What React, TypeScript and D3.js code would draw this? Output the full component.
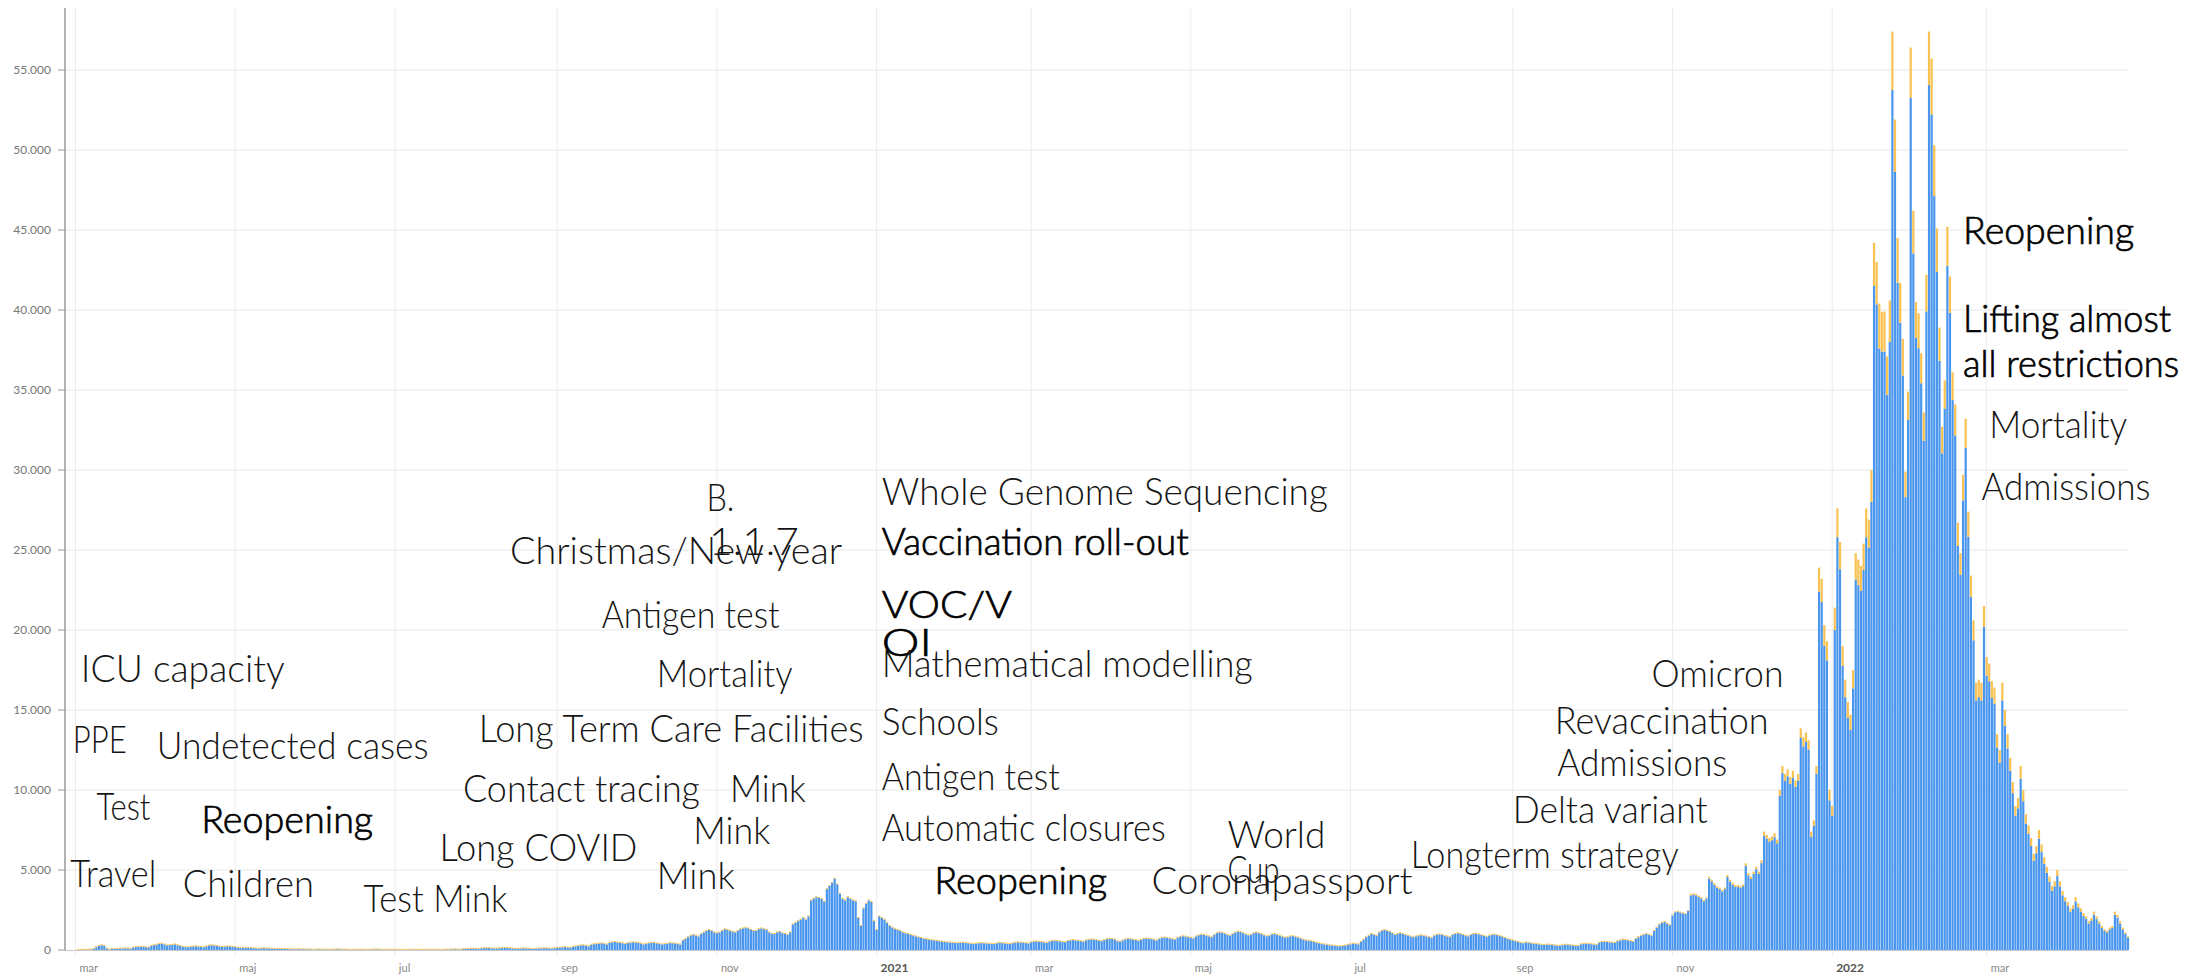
import { useEffect, useRef } from "react";
import * as d3 from "d3";

// daily positive cases (first infections + reinfections), one row per week Mon..Sun
const firstDay = "2020-03-02";
const totalCases: number[] = [
  4, 5, 8, 12, 20, 35, 60,
  180, 260, 300, 250, 90, 40, 60,
  70, 80, 90, 85, 100, 95, 80,
  150, 180, 200, 190, 210, 170, 160,
  260, 300, 330, 380, 400, 350, 290,
  300, 320, 350, 300, 250, 200, 180,
  170, 200, 220, 230, 210, 190, 170,
  230, 280, 300, 280, 260, 220, 190,
  200, 230, 220, 200, 180, 150, 130,
  120, 140, 130, 120, 110, 90, 80,
  100, 110, 95, 90, 80, 70, 60,
  70, 65, 60, 55, 50, 45, 40,
  50, 45, 40, 38, 35, 30, 25,
  30, 35, 32, 30, 28, 25, 20,
  35, 40, 38, 30, 25, 20, 15,
  20, 25, 22, 20, 18, 15, 12,
  25, 30, 35, 30, 25, 20, 15,
  12, 15, 14, 12, 10, 8, 8,
  10, 12, 15, 14, 12, 10, 8,
  12, 14, 16, 15, 12, 10, 9,
  20, 25, 30, 35, 40, 35, 30,
  50, 60, 70, 80, 90, 75, 60,
  100, 110, 120, 115, 100, 90, 80,
  110, 120, 130, 125, 110, 90, 80,
  80, 90, 100, 95, 85, 70, 60,
  80, 95, 100, 105, 110, 90, 80,
  110, 130, 150, 170, 180, 160, 140,
  190, 230, 260, 290, 300, 270, 230,
  330, 360, 380, 400, 420, 390, 340,
  450, 480, 500, 470, 450, 420, 380,
  430, 460, 480, 470, 440, 400, 350,
  380, 420, 450, 440, 420, 390, 350,
  370, 400, 430, 420, 410, 380, 340,
  600, 700, 800, 900, 950, 900, 850,
  1000, 1100, 1200, 1250, 1200, 1100, 1050,
  1100, 1200, 1300, 1250, 1200, 1150, 1100,
  1200, 1300, 1350, 1400, 1350, 1250, 1200,
  1200, 1300, 1350, 1300, 1250, 1100, 1000,
  1000, 1100, 1150, 1050, 1000, 950, 1100,
  1600, 1700, 1800, 1900, 2000, 1900, 2100,
  3100, 3200, 3300, 3250, 3200, 3000, 3800,
  4000, 4200, 4460, 4100, 3500, 3200, 3100,
  3300, 3200, 3100, 3050, 2000, 1500, 2600,
  2900, 3100, 3000, 1800, 1250, 2100, 2000,
  // 2021
  1900, 1700, 1500, 1400, 1300, 1250, 1200,
  1100, 1050, 1000, 950, 900, 850, 800,
  750, 700, 680, 650, 620, 600, 580,
  550, 520, 500, 480, 470, 460, 440,
  430, 450, 460, 440, 420, 400, 380,
  400, 420, 430, 420, 410, 390, 370,
  380, 420, 440, 430, 410, 390, 370,
  420, 460, 480, 470, 450, 430, 410,
  480, 520, 540, 520, 500, 470, 450,
  520, 560, 580, 560, 540, 510, 480,
  560, 600, 620, 600, 580, 550, 520,
  600, 640, 660, 650, 620, 580, 550,
  620, 680, 700, 690, 650, 550, 520,
  600, 660, 700, 680, 650, 620, 580,
  640, 700, 720, 700, 680, 640, 600,
  700, 760, 780, 760, 720, 680, 640,
  760, 820, 860, 840, 800, 760, 720,
  850, 920, 960, 940, 900, 850, 800,
  950, 1050, 1100, 1080, 1020, 950, 900,
  1000, 1100, 1150, 1120, 1050, 980, 920,
  950, 1050, 1100, 1050, 1000, 920, 860,
  900, 980, 1000, 950, 900, 830, 780,
  800, 850, 870, 830, 780, 720, 650,
  600, 580, 550, 500, 460, 420, 380,
  350, 330, 300, 280, 260, 240, 230,
  250, 280, 320, 360, 400, 380, 350,
  500, 650, 800, 900, 1000, 950, 900,
  1100, 1200, 1250, 1200, 1150, 1050, 950,
  1000, 1050, 1000, 950, 900, 850, 800,
  850, 900, 920, 880, 850, 800, 750,
  900, 950, 980, 950, 900, 850, 800,
  950, 1000, 1050, 1000, 950, 900, 850,
  950, 1000, 1020, 980, 930, 880, 830,
  900, 950, 970, 930, 880, 820, 760,
  700, 650, 600, 550, 500, 450, 420,
  480, 450, 420, 400, 380, 350, 330,
  320, 340, 330, 310, 290, 270, 260,
  300, 330, 320, 300, 280, 260, 250,
  350, 380, 400, 380, 360, 340, 320,
  450, 500, 520, 500, 480, 460, 440,
  550, 600, 650, 630, 600, 560, 520,
  700, 800, 900, 950, 1000, 950, 900,
  1200, 1400, 1600, 1700, 1750, 1650, 1550,
  2200, 2400, 2450, 2400, 2350, 2300, 2500,
  3500, 3550, 3500, 3400, 3300, 3125, 3300,
  4580, 4400, 4170, 4000, 3900, 3750, 3900,
  4690, 4400, 4200, 4060, 4060, 4000, 4100,
  5420, 4800, 4580, 4900, 5200, 4900, 5600,
  7400, 7200, 7000, 7100, 7300, 6900, 10000,
  11500, 11000, 11300, 10800, 11200, 10600, 11000,
  13850, 13300, 13600, 13100, 7400, 8100, 11500,
  23900, 23200, 20300, 19300, 10000, 9000, 21400,
  // 2022
  27600, 25500, 19000, 16900, 15500, 14700, 17500,
  24800, 24400, 24000, 25400, 27600, 26900, 30000,
  44200, 43000, 40400, 39900, 39900, 37100, 40600,
  57400, 51900, 44500, 41700, 38200, 29900, 34900,
  56400, 46200, 40500, 39800, 37300, 33600, 42200,
  57400, 55700, 50300, 45100, 38900, 32700, 35600,
  45200, 42100, 36100, 34100, 26700, 24800, 29700,
  33200, 27400, 23400, 20600, 16700, 16900, 16700,
  21500, 18300, 17900, 16800, 16400, 13500, 12500,
  16700, 15000, 13500, 12000, 10500, 9000, 9500,
  11500, 10000, 8500, 7800, 7000, 6000, 6500,
  7500, 6600, 5800, 5200, 4600, 4000, 4300,
  5000, 4300, 3700, 3300, 3000, 2600, 2800,
  3300, 2900, 2600, 2300, 2100, 1800, 2000,
  2400, 2100, 1800, 1500, 1300, 1200, 1400,
  1500, 2400, 2200, 1800, 1400, 1100, 850,
];

// reinfections (orange part of each bar), from 1 Nov 2021
const reinfectionFirstDay = "2021-11-01";
const reinfections: number[] = [
  40, 50, 55, 60, 60, 55, 60,
  90, 90, 85, 85, 80, 80, 85,
  120, 110, 105, 100, 95, 90, 95,
  130, 120, 115, 110, 110, 105, 110,
  160, 140, 140, 150, 150, 140, 170,
  250, 240, 230, 240, 250, 230, 350,
  450, 430, 440, 420, 440, 410, 430,
  600, 580, 590, 570, 320, 350, 500,
  1500, 1450, 1300, 1200, 650, 600, 1400,
  1800, 1700, 1250, 1100, 1000, 950, 1150,
  1650, 1600, 1550, 1650, 1800, 1750, 2000,
  2700, 2650, 2800, 2500, 2500, 2400, 2600,
  3650, 3260, 2800, 2500, 2300, 1600, 1770,
  3150, 2660, 2230, 2190, 1880, 1770, 2290,
  3340, 3480, 3180, 2710, 2070, 1660, 1770,
  2440, 2280, 1730, 1940, 1450, 1350, 1600,
  1810, 1570, 1330, 1250, 1100, 1100, 1100,
  1300, 1150, 1100, 1050, 1000, 850, 800,
  1100, 1000, 900, 800, 700, 600, 650,
  800, 700, 600, 550, 500, 420, 450,
  550, 480, 420, 380, 340, 300, 320,
  380, 330, 280, 250, 230, 200, 220,
  260, 230, 200, 180, 160, 140, 160,
  190, 170, 145, 120, 105, 100, 115,
  125, 200, 180, 150, 115, 90, 70,
];

const yTicks = [0, 5000, 10000, 15000, 20000, 25000, 30000, 35000, 40000, 45000, 50000, 55000];
const monthTicks = [
  "2020-03-01", "2020-05-01", "2020-07-01", "2020-09-01", "2020-11-01", "2021-01-01",
  "2021-03-01", "2021-05-01", "2021-07-01", "2021-09-01", "2021-11-01", "2022-01-01", "2022-03-01",
];
const monthLabels = ["mar", "maj", "jul", "sep", "nov", "2021", "mar", "maj", "jul", "sep", "nov", "2022", "mar"];

// text, anchor date, anchor value, fitted width, regular weight
const annotations: [string, string, number, number, boolean][] = [
  ["ICU capacity", "2020-03-03", 16750, 204, false],
  ["PPE", "2020-02-29", 12310, 54, false],
  ["Undetected cases", "2020-04-01", 11940, 272, false],
  ["Test", "2020-03-09", 8125, 54, false],
  ["Reopening", "2020-04-18", 7310, 172, true],
  ["Travel", "2020-02-28", 3940, 86, false],
  ["Children", "2020-04-11", 3310, 131, false],
  ["Test Mink", "2020-06-19", 2375, 144, false],
  ["Long COVID", "2020-07-18", 5560, 198, false],
  ["Contact tracing", "2020-07-27", 9250, 237, false],
  ["Mink", "2020-11-06", 9250, 76, false],
  ["Mink", "2020-10-23", 6625, 77, false],
  ["Mink", "2020-10-09", 3810, 78, false],
  ["Long Term Care Facilities", "2020-08-02", 13000, 385, false],
  ["Mortality", "2020-10-09", 16440, 136, false],
  ["Antigen test", "2020-09-18", 20125, 178, false],
  ["Christmas/New year", "2020-08-14", 24125, 332, false],
  ["B.", "2020-10-28", 27440, 28, false],
  ["1.1.7", "2020-10-29", 24690, 90, false],
  ["Whole Genome Sequencing", "2021-01-03", 27810, 446, false],
  ["Vaccination roll-out", "2021-01-03", 24690, 307, true],
  ["VOC/V", "2021-01-03", 20750, 130, true],
  ["OI", "2021-01-03", 18375, 50, true],
  ["Mathematical modelling", "2021-01-03", 17060, 371, false],
  ["Schools", "2021-01-03", 13440, 117, false],
  ["Antigen test", "2021-01-03", 10000, 178, false],
  ["Automatic closures", "2021-01-03", 6810, 284, false],
  ["Reopening", "2021-01-23", 3500, 173, true],
  ["Coronapassport", "2021-04-16", 3500, 261, false],
  ["World", "2021-05-15", 6375, 98, false],
  ["Cup", "2021-05-15", 4190, 52, false],
  ["Longterm strategy", "2021-07-24", 5125, 268, false],
  ["Delta variant", "2021-09-01", 7940, 195, false],
  ["Admissions", "2021-09-18", 10875, 170, false],
  ["Revaccination", "2021-09-17", 13500, 214, false],
  ["Omicron", "2021-10-24", 16440, 132, false],
  ["Reopening", "2022-02-20", 44125, 171, true],
  ["Lifting almost", "2022-02-20", 38625, 208, true],
  ["all restrictions", "2022-02-20", 35810, 216, true],
  ["Mortality", "2022-03-02", 32000, 138, false],
  ["Admissions", "2022-02-27", 28125, 169, false],
];

const W = 2188;
const H = 978;

export default function App() {
  const ref = useRef<HTMLDivElement>(null);

  useEffect(() => {
    document.body.style.margin = "0";
    if (!ref.current) return;
    ref.current.innerHTML = "";

    const parse = d3.utcParse("%Y-%m-%d");
    const start = parse(firstDay)!;
    const reOffset = d3.utcDay.count(start, parse(reinfectionFirstDay)!);
    const data = totalCases.map((total, i) => {
      const j = i - reOffset;
      const re = j >= 0 && j < reinfections.length ? reinfections[j] : 0;
      return { date: d3.utcDay.offset(start, i), total, re };
    });

    const left = 65, right = 2128, top = 8, bottom = 950;
    const x = d3.scaleUtc().domain([parse("2020-02-26")!, parse("2022-04-24")!]).range([left, right]);
    const y = d3.scaleLinear().domain([0, 55000]).range([bottom, 70]);
    const fmt = d3.formatLocale({ decimal: ",", thousands: ".", grouping: [3], currency: ["", ""] }).format(",");

    const svg = d3.select(ref.current).append("svg")
      .attr("width", W).attr("height", H)
      .style("display", "block").style("background", "#fff");

    // grid
    svg.append("g").selectAll("line").data(monthTicks).join("line")
      .attr("x1", (d) => x(parse(d)!)).attr("x2", (d) => x(parse(d)!))
      .attr("y1", top).attr("y2", bottom + 6)
      .attr("stroke", "#ececec").attr("stroke-width", 1);
    svg.append("g").selectAll("line").data(yTicks.filter((t) => t > 0)).join("line")
      .attr("x1", left).attr("x2", right)
      .attr("y1", (d) => y(d)).attr("y2", (d) => y(d))
      .attr("stroke", "#e8e8e8").attr("stroke-width", 1.2);

    // bars
    const bw = 2.2;
    const bars = svg.append("g");
    bars.selectAll("rect.blue").data(data).join("rect")
      .attr("class", "blue")
      .attr("x", (d) => x(d.date) - bw / 2).attr("width", bw)
      .attr("y", (d) => y(d.total - d.re))
      .attr("height", (d) => bottom - y(d.total - d.re))
      .attr("fill", "#4a96ee");
    bars.selectAll("rect.orange").data(data).join("rect")
      .attr("class", "orange")
      .attr("x", (d) => x(d.date) - bw / 2).attr("width", bw)
      .attr("y", (d) => Math.min(y(d.total), y(d.total - d.re) - 1))
      .attr("height", (d) => Math.max(1, y(d.total - d.re) - y(d.total)))
      .attr("fill", "#f8bb3e").attr("opacity", 0.9);

    // axes
    svg.append("line").attr("x1", left).attr("x2", right).attr("y1", bottom + 0.5).attr("y2", bottom + 0.5)
      .attr("stroke", "#c8c8c8");
    svg.append("line").attr("x1", left).attr("x2", left).attr("y1", top).attr("y2", bottom)
      .attr("stroke", "#9a9a9a").attr("stroke-width", 1.5);
    svg.append("g").selectAll("line").data(yTicks).join("line")
      .attr("x1", left - 7).attr("x2", left).attr("y1", (d) => y(d)).attr("y2", (d) => y(d))
      .attr("stroke", "#9a9a9a");
    svg.append("g").selectAll("text").data(yTicks).join("text")
      .attr("x", 51).attr("y", (d) => y(d) + 4)
      .attr("text-anchor", "end")
      .attr("font-family", "Lato, 'Open Sans', sans-serif").attr("font-size", 12)
      .attr("fill", "#777")
      .text((d) => fmt(d));
    svg.append("g").selectAll("text").data(monthTicks).join("text")
      .attr("x", (d) => x(parse(d)!) + 4).attr("y", 972)
      .attr("font-family", "Lato, 'Open Sans', sans-serif")
      .attr("font-size", (d, i) => (monthLabels[i].length === 4 ? 12 : 11))
      .attr("font-weight", (d, i) => (monthLabels[i].length === 4 ? 700 : 400))
      .attr("fill", (d, i) => (monthLabels[i].length === 4 ? "#555" : "#888"))
      .text((d, i) => monthLabels[i]);

    // annotations
    svg.append("g").selectAll("text").data(annotations).join("text")
      .attr("x", (d) => x(parse(d[1])!)).attr("y", (d) => y(d[2]))
      .attr("font-family", "Lato, 'Open Sans', sans-serif")
      .attr("font-size", 38)
      .attr("font-weight", 300)
      .attr("fill", (d) => (d[4] ? "#000" : "#151515"))
      .attr("stroke", (d) => (d[4] ? "#000" : "none"))
      .attr("stroke-width", 0.7)
      .attr("textLength", (d) => d[3])
      .attr("lengthAdjust", "spacingAndGlyphs")
      .text((d) => d[0]);
  }, []);

  return <div ref={ref}></div>;
}
